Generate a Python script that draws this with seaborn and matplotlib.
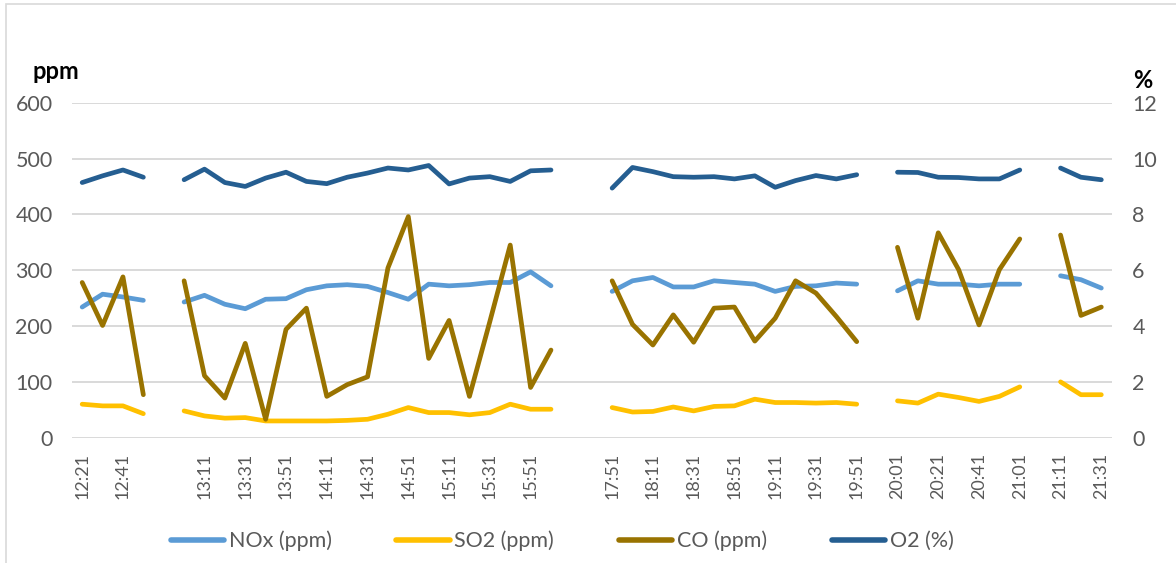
import numpy as np
import pandas as pd
import matplotlib
matplotlib.use("Agg")
import matplotlib.pyplot as plt
from matplotlib.lines import Line2D
from matplotlib.patches import Rectangle
import seaborn as sns

# Sampling times (empty strings are idle slots between measurement runs)
times = [
    "12:21", "12:31", "12:41", "12:51", "",
    "13:01", "13:11", "13:21", "13:31", "13:41", "13:51", "14:01", "14:11", "14:21",
    "14:31", "14:41", "14:51", "15:01", "15:11", "15:21", "15:31", "15:41", "15:51", "16:01",
    "", "",
    "17:51", "18:01", "18:11", "18:21", "18:31", "18:41", "18:51", "19:01", "19:11",
    "19:21", "19:31", "19:41", "19:51",
    "",
    "20:01", "20:11", "20:21", "20:31", "20:41", "20:51", "21:01",
    "",
    "21:11", "21:21", "21:31",
]

nan = np.nan
nox_ppm = [
    234, 257, 252, 246, nan,
    243, 255, 239, 231, 248, 249, 265, 272, 274, 271, 260, 248, 275, 272, 274, 278, 278, 297, 272,
    nan, nan,
    262, 281, 287, 270, 270, 281, 278, 275, 262, 271, 272, 277, 275,
    nan,
    263, 281, 275, 275, 272, 275, 275,
    nan,
    290, 283, 268,
]
so2_ppm = [
    60, 57, 57, 43, nan,
    48, 39, 35, 36, 30, 30, 30, 30, 31, 33, 42, 54, 45, 45, 41, 45, 60, 51, 51,
    nan, nan,
    54, 46, 47, 55, 48, 56, 57, 69, 63, 63, 62, 63, 60,
    nan,
    66, 62, 78, 72, 65, 74, 91,
    nan,
    100, 77, 77,
]
co_ppm = [
    278, 201, 288, 77, nan,
    281, 111, 71, 169, 33, 194, 232, 74, 95, 109, 304, 396, 142, 210, 74, 208, 345, 90, 157,
    nan, nan,
    281, 203, 166, 220, 171, 232, 234, 173, 214, 281, 259, 217, 172,
    nan,
    341, 214, 367, 301, 202, 301, 356,
    nan,
    363, 219, 234,
]
o2_pct = [
    9.14, 9.38, 9.59, 9.33, nan,
    9.24, 9.62, 9.14, 9.00, 9.30, 9.51, 9.18, 9.10, 9.33, 9.48, 9.66, 9.59, 9.75, 9.09,
    9.30, 9.35, 9.18, 9.56, 9.59,
    nan, nan,
    8.94, 9.68, 9.53, 9.35, 9.33, 9.35, 9.27, 9.38, 8.97, 9.21, 9.39, 9.27, 9.42,
    nan,
    9.51, 9.50, 9.33, 9.32, 9.27, 9.27, 9.59,
    nan,
    9.66, 9.33, 9.24,
]

series_names = ["NOx (ppm)", "SO2 (ppm)", "CO (ppm)", "O2 (%)"]
colors = {
    "NOx (ppm)": "#5B9BD5",
    "SO2 (ppm)": "#FFC000",
    "CO (ppm)": "#997300",
    "O2 (%)": "#255E91",
}


def long_form(name, values):
    vals = np.asarray(values, dtype=float)
    pos = np.arange(len(vals))
    # a new run starts after every idle slot
    run = np.cumsum(np.isnan(vals))
    df = pd.DataFrame({"pos": pos, "value": vals, "series": name, "run": run})
    return df.dropna()


ppm_df = pd.concat([
    long_form("NOx (ppm)", nox_ppm),
    long_form("SO2 (ppm)", so2_ppm),
    long_form("CO (ppm)", co_ppm),
])
o2_df = long_form("O2 (%)", o2_pct)

sns.set_theme(style="white")
plt.rcParams["font.family"] = ["Lato", "DejaVu Sans"]

W, H = 1176, 563
fig = plt.figure(figsize=(W / 100, H / 100), dpi=100)
fig.patch.set_facecolor("white")

# chart-area border
fig.add_artist(Rectangle((6 / W, -0.5), 2.0, (H - 4) / H + 0.5, transform=fig.transFigure,
                         fill=False, edgecolor="#D9D9D9", lw=1.2))

ax = fig.add_axes([72 / W, (H - 437.7) / H, (1111.5 - 72) / W, (437.7 - 102.7) / H])
ax2 = ax.twinx()

lw = 3.4
sns.lineplot(data=ppm_df, x="pos", y="value", hue="series", units="run", estimator=None,
             palette=colors, hue_order=series_names[:3], lw=lw, legend=False, ax=ax,
             solid_capstyle="round", solid_joinstyle="round", sort=False)
sns.lineplot(data=o2_df, x="pos", y="value", hue="series", units="run", estimator=None,
             palette=colors, lw=lw, legend=False, ax=ax2,
             solid_capstyle="round", solid_joinstyle="round", sort=False)

n = len(times)
for a in (ax, ax2):
    a.set_xlim(-0.5, n - 0.5)
    a.set_xlabel("")
    a.set_ylabel("")
    for s in a.spines.values():
        s.set_visible(False)

ax.set_ylim(0, 600)
ax.set_yticks(np.arange(0, 601, 100))
ax2.set_ylim(0, 12)
ax2.set_yticks(np.arange(0, 13, 2))
ax.yaxis.grid(True, color="#D9D9D9", lw=1.4)
ax.xaxis.grid(False)
ax2.grid(False)
ax.set_axisbelow(True)

tick_pos = list(range(0, n, 2))
ax.set_xticks(tick_pos)
ax.set_xticklabels([times[i] for i in tick_pos], rotation=90)

label_color = "#595959"
ax.tick_params(axis="x", length=0, pad=11, labelsize=13, labelcolor=label_color)
ax.tick_params(axis="y", length=0, pad=14, labelsize=15.5, labelcolor=label_color)
ax2.tick_params(axis="y", length=0, pad=15, labelsize=15.5, labelcolor=label_color)

fig.text(32 / W, (H - 79) / H, "ppm", fontsize=17, fontweight="bold", color="black",
         ha="left", va="baseline")
fig.text(1133 / W, (H - 88) / H, "%", fontsize=17, fontweight="bold", color="black",
         ha="left", va="baseline")

handles = [Line2D([0], [0], color=colors[s], lw=lw + 0.6, solid_capstyle="round")
           for s in series_names]
fig.legend(handles, series_names, loc="center", bbox_to_anchor=(562 / W, (H - 541) / H),
           ncol=4, frameon=False, fontsize=15.5, labelcolor=label_color,
           handlelength=2.5, handletextpad=0.2, columnspacing=3.0)

fig.savefig("out.png", dpi=100, facecolor="white")
